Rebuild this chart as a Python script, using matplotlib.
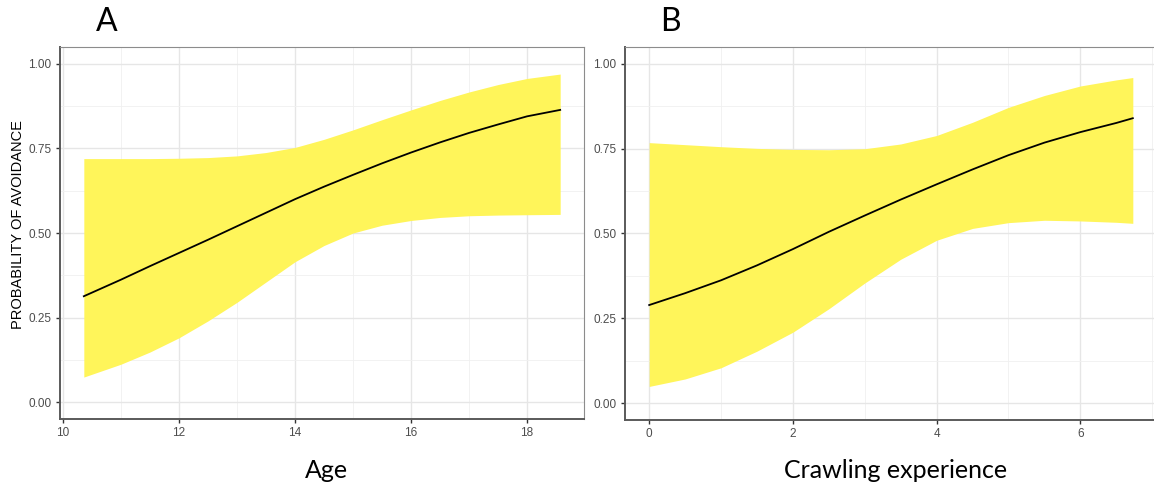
import numpy as np
import matplotlib.pyplot as plt
from matplotlib.ticker import MultipleLocator

plt.rcParams["font.family"] = ["Liberation Sans", "DejaVu Sans"]

# -------------------------
# Panel A: age
# -------------------------
age = [10.36, 11.0, 11.5, 12.0, 12.5, 13.0, 13.5, 14.0, 14.5, 15.0,
       15.5, 16.0, 16.5, 17.0, 17.5, 18.0, 18.57]
age_fit = [0.313, 0.362, 0.402, 0.441, 0.480, 0.520, 0.560, 0.600, 0.637, 0.672,
           0.706, 0.738, 0.768, 0.796, 0.821, 0.845, 0.864]
age_upper = [0.720, 0.720, 0.720, 0.721, 0.723, 0.728, 0.738, 0.753, 0.777, 0.805,
             0.835, 0.864, 0.892, 0.917, 0.939, 0.957, 0.970]
age_lower = [0.074, 0.112, 0.148, 0.190, 0.240, 0.295, 0.355, 0.415, 0.463, 0.500,
             0.523, 0.537, 0.546, 0.551, 0.553, 0.554, 0.555]

# -------------------------
# Panel B: crawling experience
# -------------------------
crawl = [0.0, 0.5, 1.0, 1.5, 2.0, 2.5, 3.0, 3.5, 4.0, 4.5, 5.0, 5.5, 6.0, 6.5, 6.73]
crawl_fit = [0.289, 0.324, 0.362, 0.406, 0.454, 0.505, 0.553, 0.600, 0.645, 0.689,
             0.731, 0.768, 0.799, 0.826, 0.840]
crawl_upper = [0.768, 0.762, 0.756, 0.751, 0.748, 0.747, 0.750, 0.764, 0.789, 0.828,
               0.872, 0.907, 0.935, 0.953, 0.960]
crawl_lower = [0.049, 0.071, 0.104, 0.153, 0.209, 0.278, 0.354, 0.424, 0.480, 0.515,
               0.532, 0.539, 0.537, 0.533, 0.530]

y_ticks = [0.0, 0.25, 0.5, 0.75, 1.0]
y_labels = ["0.00", "0.25", "0.50", "0.75", "1.00"]

W, H = 1154, 488
fig = plt.figure(figsize=(W / 100, H / 100), dpi=100)


def px_axes(left, top, right, bottom):
    return fig.add_axes([left / W, 1 - bottom / H, (right - left) / W, (bottom - top) / H])


def style(ax, x, xmajor, xminor):
    pad = 0.05 * (x[-1] - x[0])
    ax.set_xlim(x[0] - pad, x[-1] + pad)
    ax.set_ylim(-0.05, 1.05)
    ax.set_yticks(y_ticks)
    ax.set_yticklabels(y_labels)
    ax.xaxis.set_major_locator(MultipleLocator(xmajor))
    ax.xaxis.set_minor_locator(MultipleLocator(xminor))
    ax.yaxis.set_minor_locator(MultipleLocator(0.125))
    ax.grid(which="major", color="#e6e6e6", lw=1.0)
    ax.grid(which="minor", color="#f0f0f0", lw=0.6)
    ax.set_axisbelow(True)
    ax.tick_params(which="minor", length=0)
    ax.tick_params(which="major", length=3, width=1, color="#333333",
                   labelsize=8.5, labelcolor="#4d4d4d", pad=3)
    for s in ["top", "right"]:
        ax.spines[s].set_color("#8c8c8c")
        ax.spines[s].set_linewidth(0.8)
    for s in ["left", "bottom"]:
        ax.spines[s].set_color("#5a5a5a")
        ax.spines[s].set_linewidth(1.4)


# Panel A
axA = px_axes(60, 47, 584, 419)
axA.fill_between(age, age_lower, age_upper, color="#fff55a", lw=0)
axA.plot(age, age_fit, color="black", lw=1.3)
style(axA, age, 2, 1)
axA.set_ylabel("PROBABILITY OF AVOIDANCE", fontsize=10.5, color="black")
axA.yaxis.set_label_coords(-0.066, 0.524)

# Panel B
axB = px_axes(625, 47, 1157, 420)
axB.fill_between(crawl, crawl_lower, crawl_upper, color="#fff55a", lw=0)
axB.plot(crawl, crawl_fit, color="black", lw=1.3)
style(axB, crawl, 2, 1)

# Panel letters and x labels
fig.text(107 / W, 1 - 22 / H, "A", family="Lato", fontsize=23, ha="center", va="center")
fig.text(670 / W, 1 - 22 / H, "B", family="Lato", fontsize=23, ha="center", va="center")
fig.text(326 / W, 1 - 470 / H, "Age", family="Lato", fontsize=18, ha="center", va="center")
fig.text(896 / W, 1 - 470 / H, "Crawling experience", family="Lato", fontsize=18,
         ha="center", va="center")

fig.savefig("out.png", dpi=100)
